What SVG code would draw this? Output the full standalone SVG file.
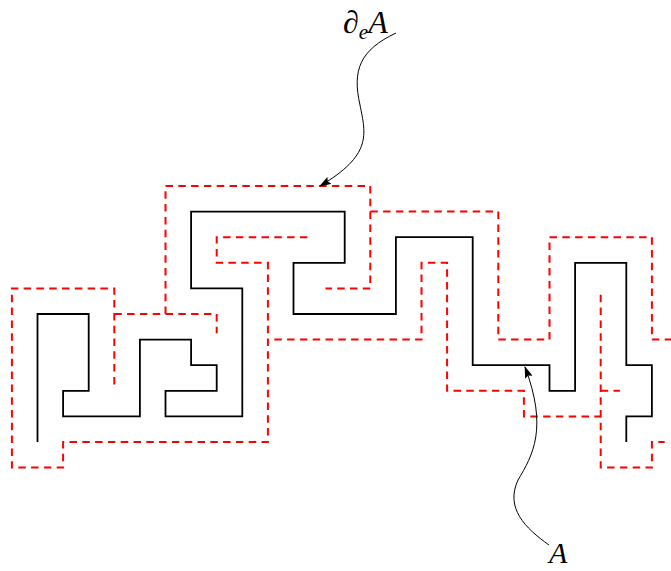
<svg xmlns="http://www.w3.org/2000/svg" width="671" height="571" viewBox="0 0 671 571">
<style>
.poly{fill:none;stroke:#000;stroke-width:1.8;stroke-linejoin:miter}
.bd{fill:none;stroke:#ff0000;stroke-width:2;stroke-dasharray:7.5 5.3}
.arr{fill:none;stroke:#000;stroke-width:1}
.lbl{font-family:"Liberation Serif",serif;font-style:italic;fill:#000}
</style>
<defs>
<marker id="ah" viewBox="0 0 12 8" refX="11" refY="4" markerWidth="12" markerHeight="8" markerUnits="userSpaceOnUse" orient="auto">
<path d="M0,0 L12,4 L0,8 L2,4 Z" fill="#000"/>
</marker>
</defs>
<rect width="671" height="571" fill="#fff"/>
<g id="set-A">
<polyline class="poly" points="37.5,442 37.5,314 88.7,314 88.7,390.8 63.1,390.8 63.1,416.4 139.9,416.4 139.9,339.6 191.1,339.6 191.1,365.2 216.7,365.2 216.7,390.8 165.5,390.8 165.5,416.4 242.3,416.4 242.3,288.4 191.1,288.4 191.1,211.6 344.7,211.6 344.7,262.8 293.5,262.8 293.5,314 395.9,314 395.9,237.2 472.7,237.2 472.7,365.2 549.5,365.2 549.5,390.8 575.1,390.8 575.1,262.8 626.3,262.8 626.3,365.2 651.9,365.2 651.9,416.4 626.3,416.4 626.3,442"/>
</g>
<g id="edge-boundary">
<polyline class="bd" points="114.3,384.4 114.3,288.4 11.9,288.4 11.9,467.6 63.1,467.6 63.1,442 267.9,442 267.9,262.8 216.7,262.8 216.7,237.2 312.7,237.2"/>
<polyline class="bd" points="114.3,314 216.7,314 216.7,333.2"/>
<polyline class="bd" points="165.5,314 165.5,186 370.3,186 370.3,288.4 325.5,288.4"/>
<polyline class="bd" points="370.3,211.6 498.3,211.6 498.3,339.6 549.5,339.6 549.5,237.2 651.9,237.2 651.9,339.6 690,339.6"/>
<polyline class="bd" points="274.3,339.6 421.5,339.6 421.5,262.8 447.1,262.8 447.1,390.8 523.9,390.8 523.9,416.4 600.7,416.4"/>
<polyline class="bd" points="600.7,294.8 600.7,467.6 651.9,467.6 651.9,442 664.7,442"/>
<polyline class="bd" points="600.7,390.8 619.9,390.8"/>
</g>
<g id="connectors">
<path class="arr" marker-end="url(#ah)" d="M396,33 C360,50 352,70 360,105 C366,135 372,155 320,186"/>
<path class="arr" marker-end="url(#ah)" d="M549,545 C525,528 505,508 518,480 C533,455 548,428 525,367"/>
</g>
<g id="label-boundary">
<text class="lbl" x="343" y="33" font-size="32"><tspan font-style="normal">∂</tspan><tspan font-size="21" dy="6">e</tspan><tspan dy="-6">A</tspan></text>
</g>
<g id="label-A">
<text class="lbl" x="549" y="563" font-size="30">A</text>
</g>
</svg>
